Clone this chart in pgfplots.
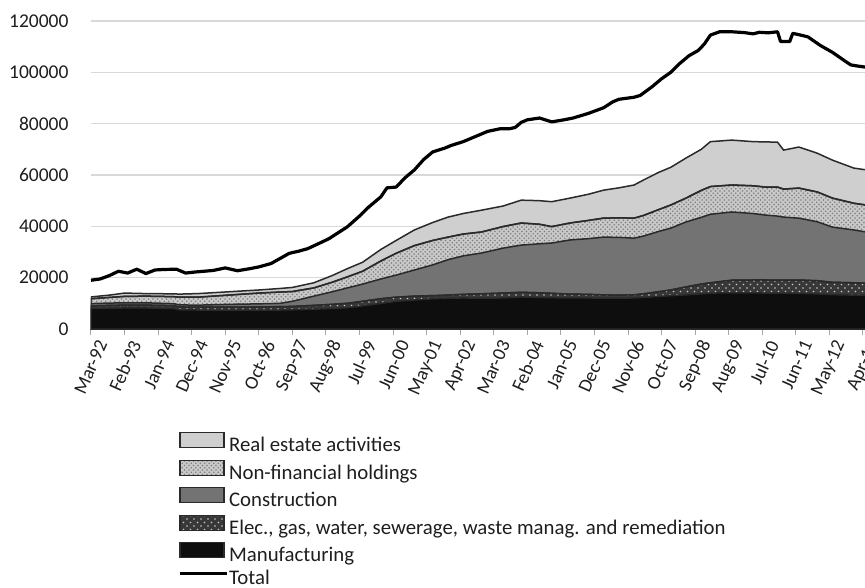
\documentclass[border=0pt]{standalone}
\usepackage{fontspec}
\setmainfont{Carlito}
\usepackage{pgfplots}
\pgfplotsset{compat=1.18}
\usepackage{pgfplotstable}
\usetikzlibrary{patterns}

\definecolor{rea}{HTML}{CFCFCF}
\definecolor{nfhbg}{HTML}{C9C9C9}
\definecolor{nfhdot}{HTML}{7E7E7E}
\definecolor{con}{HTML}{737373}
\definecolor{ele}{HTML}{383838}
\definecolor{eledot}{HTML}{C8C8C8}
\definecolor{man}{HTML}{0E0E0E}
\definecolor{edge}{HTML}{2A2A2A}
\definecolor{txt}{HTML}{1E1E1E}
\definecolor{gridgray}{HTML}{D9D9D9}
\definecolor{axisgray}{HTML}{A6A6A6}

\pgfdeclarepatternformonly{finedots}{\pgfqpoint{-1pt}{-1pt}}{\pgfqpoint{5pt}{5pt}}{\pgfqpoint{4.5pt}{4.5pt}}{%
  \pgfpathcircle{\pgfqpoint{0pt}{0pt}}{0.9pt}%
  \pgfpathcircle{\pgfqpoint{2.25pt}{2.25pt}}{0.9pt}%
  \pgfusepath{fill}}
\pgfdeclarepatternformonly{sparsedots}{\pgfqpoint{-1pt}{-1pt}}{\pgfqpoint{8pt}{8pt}}{\pgfqpoint{7pt}{7pt}}{%
  \pgfpathcircle{\pgfqpoint{1.5pt}{1.5pt}}{0.9pt}%
  \pgfpathcircle{\pgfqpoint{5pt}{5pt}}{0.9pt}%
  \pgfusepath{fill}}

% month index: 0 = Mar-92; components of the stack
\pgfplotstableread{
m   man   ele   con   nfh   rea
0   8000  1000  900   1900  700
6   8100  1100  900   2200  900
11  8200  1100  900   2500  1300
18  8200  1100  900   2600  1000
27  8000  1100  800   2700  1100
29  7500  1100  800   3000  1200
35  7400  1100  800   3100  1400
45  7400  1100  1100  3600  1300
55  7400  1200  1200  4200  1200
62  7400  1300  1300  4400  1400
66  7500  1300  2000  3800  1600
73  7700  1500  3600  3200  2000
79  8000  1600  4900  3700  2600
84  8300  1700  6000  4300  3200
89  9000  1800  6700  5000  3500
95  10000 1800  7700  7000  4500
100 10800 1600  8600  8500  5000
106 11300 1500  10200 9500  6100
112 11800 1200  12000 9500  7000
117 12000 1200  13800 8800  7800
122 12100 1400  15000 8500  8000
128 12000 1700  15900 8200  8500
135 12100 1900  17500 8400  8000
141 12500 1800  18400 8600  8900
147 12300 1800  19100 7600  9200
151 12200 1700  19600 6400  9700
157 12100 1500  21100 6600  9700
163 12100 1400  21700 7100  10200
168 12000 1300  22500 7400  10900
173 12000 1200  22500 7600  11700
178 12100 1200  22100 7800  12900
181 12300 1400  22500 8000  13800
186 12700 1800  23500 8500  14500
190 13000 2200  24100 9000  14700
195 13300 3100  25300 9300  15600
200 13700 3800  26000 10500 16000
203 14000 4000  26700 10800 17500
210 14100 4900  26600 10500 17500
217 14100 5000  25900 10800 17200
221 14000 5100  25300 10900 17600
225 14000 5000  25000 11300 17500
227 14000 5000  24600 10900 15200
232 13900 5200  24100 11700 16000
238 13700 5100  23000 11600 15100
243 13400 4800  21500 11300 14800
250 13200 4800  20600 10400 13700
254 13200 4600  20000 10500 13700
}\stack

\pgfplotstableread{
m   total
0   19000
3   19500
6   20800
9   22500
12  21800
15  23300
18  21600
21  23000
24  23200
28  23300
31  21800
34  22200
40  22800
44  23800
48  22700
52  23500
55  24200
59  25500
62  27500
65  29500
68  30300
71  31300
75  33500
78  35200
81  37500
84  39800
88  44000
91  47500
95  51500
97  55000
100 55300
103 59000
106 62000
109 66000
112 69000
116 70500
118 71500
122 73000
126 75000
130 77000
134 78000
137 78000
139 78500
141 80500
143 81500
147 82200
151 80700
155 81500
158 82200
163 84000
168 86200
171 88500
173 89500
178 90300
180 91000
184 94500
187 97500
190 100000
193 103500
196 106500
199 108500
201 111000
203 114500
206 115800
210 115800
214 115500
217 115000
219 115600
222 115400
225 115800
226 112000
229 112000
230 115200
233 114400
235 113800
239 110500
243 107800
247 104500
249 102900
251 102500
254 102000
}\totaltab

\begin{document}
\begin{tikzpicture}
\begin{axis}[
  at={(91pt,-329pt)}, anchor=south west,
  scale only axis, width=775pt, height=308pt,
  xmin=0, xmax=254, ymin=0, ymax=120000,
  axis x line=bottom, axis y line=left,
  x axis line style={-, draw=axisgray, line width=1.5pt},
  y axis line style={draw=none},
  ytick={0,20000,...,120000},
  ytick style={draw=none},
  xtick={0,11,...,253},
  xticklabels={Mar-92,Feb-93,Jan-94,Dec-94,Nov-95,Oct-96,Sep-97,Aug-98,Jul-99,Jun-00,May-01,Apr-02,Mar-03,Feb-04,Jan-05,Dec-05,Nov-06,Oct-07,Sep-08,Aug-09,Jul-10,Jun-11,May-12,Apr-13},
  xtick style={draw=axisgray, line width=1pt},
  major tick length=6pt, tick align=outside,
  ymajorgrids, grid style={draw=gridgray, line width=1.5pt},
  scaled y ticks=false,
  yticklabel style={font=\fontsize{19.5}{24}\selectfont, text=txt, xshift=-13pt,
    /pgf/number format/fixed, /pgf/number format/precision=0,
    /pgf/number format/1000 sep={}, /pgf/number format/assume math mode=true},
  xticklabel style={font=\fontsize{19}{22}\selectfont, text=txt, rotate=66, anchor=east, xshift=2pt, yshift=-13pt},
  legend cell align=left,
  legend style={draw=none, fill=none, inner sep=0pt, outer sep=0pt,
    at={(axis description cs:0.1135,-0.3344)}, anchor=north west,
    row sep=2.9pt,
    font=\fontsize{20.8}{24}\selectfont, text=txt,
    nodes={inner sep=0pt, text height=15pt, text depth=5pt},
    /tikz/every odd column/.style={column sep=1pt}},
  legend image code/.code={\draw[#1, line width=1.2pt] (0pt,-1pt) rectangle (44pt,14pt);},
]
\addplot[draw=edge, line width=1.5pt, fill=rea]
  table[x=m, y expr=\thisrow{man}+\thisrow{ele}+\thisrow{con}+\thisrow{nfh}+\thisrow{rea}] {\stack} \closedcycle;
\addlegendentry{Real estate activities}
\addplot[draw=edge, line width=1.5pt, fill=nfhbg, postaction={pattern=finedots, pattern color=nfhdot}]
  table[x=m, y expr=\thisrow{man}+\thisrow{ele}+\thisrow{con}+\thisrow{nfh}] {\stack} \closedcycle;
\addlegendentry{Non-financial holdings}
\addplot[draw=edge, line width=1.5pt, fill=con]
  table[x=m, y expr=\thisrow{man}+\thisrow{ele}+\thisrow{con}] {\stack} \closedcycle;
\addlegendentry{Construction}
\addplot[draw=edge, line width=1.5pt, fill=ele, postaction={pattern=sparsedots, pattern color=eledot}]
  table[x=m, y expr=\thisrow{man}+\thisrow{ele}] {\stack} \closedcycle;
\addlegendentry{Elec., gas, water, sewerage, waste manag. and remediation}
\addplot[draw=edge, line width=1.5pt, fill=man]
  table[x=m, y=man] {\stack} \closedcycle;
\addlegendentry{Manufacturing}
\addplot[draw=black, line width=3.2pt, line join=round,
  legend image code/.code={\draw[black, line width=2.2pt] (0pt,6pt) -- (47pt,6pt);}]
  table[x=m, y=total] {\totaltab};
\addlegendentry{Total}
\end{axis}
\pgfresetboundingbox
\useasboundingbox (0pt,0pt) rectangle (865pt,-587pt);
\end{tikzpicture}
\end{document}
